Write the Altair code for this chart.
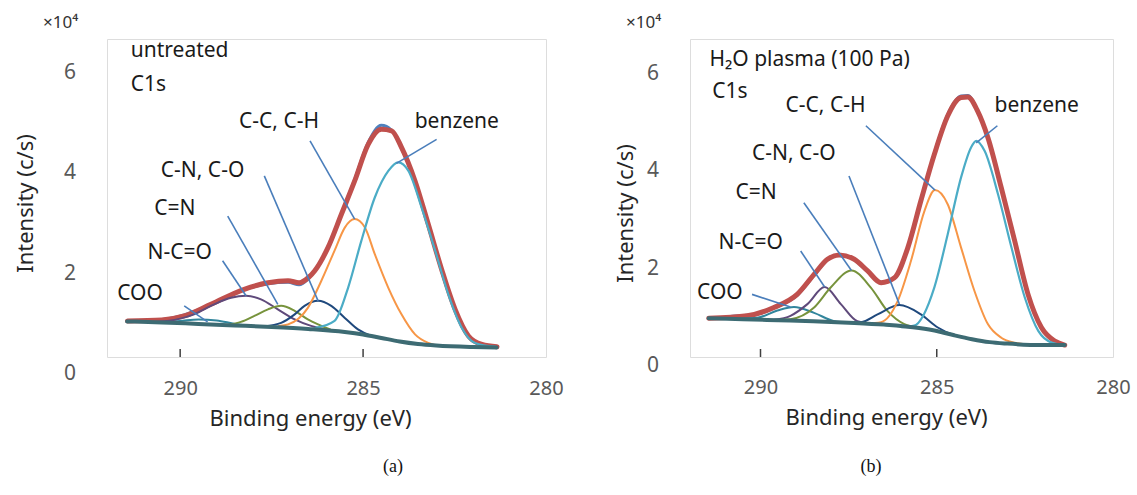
import altair as alt
import pandas as pd

XDOM = [292, 280]
X_TICKS = [290, 285, 280]
Y_TICKS = [0, 2, 4, 6]
FONT = "Noto Sans"

# ---------------- panel (a): untreated ----------------
A_YDOM = [0.34, 6.68]
A_BASE_X = [291.45, 290.5, 289.5, 288.5, 287.5, 286.5, 285.5, 285.0, 284.5, 284.0, 283.5, 283.0, 282.0, 281.35]
A_BASE_Y = [1.05, 1.03, 1.00, 0.97, 0.94, 0.90, 0.84, 0.79, 0.72, 0.65, 0.60, 0.57, 0.54, 0.53]
A_SUM_X = [291.44, 290.5, 289.89, 289.16, 288.25, 287.6, 287.05, 286.75, 286.5, 286.32, 285.96, 285.59,
           285.23, 284.86, 284.5, 284.22, 283.95, 283.58, 283.22, 282.85, 282.49, 282.12, 281.75, 281.34]
A_SUM_Y = [1.06, 1.08, 1.16, 1.39, 1.69, 1.82, 1.86, 1.82, 1.92, 2.06, 2.52, 3.19,
           3.85, 4.58, 4.88, 4.85, 4.52, 3.85, 2.99, 2.08, 1.30, 0.76, 0.59, 0.545]
A_MEAS_Y = [1.06, 1.09, 1.18, 1.38, 1.68, 1.80, 1.83, 1.78, 1.90, 2.06, 2.52, 3.20,
            3.88, 4.62, 4.96, 4.86, 4.50, 3.85, 2.99, 2.08, 1.30, 0.76, 0.59, 0.545]
A_BENZ_X = [286.3, 285.78, 285.41, 285.05, 284.68, 284.31, 284.04, 283.76, 283.40, 283.03, 282.67, 282.30, 281.94, 281.39]
A_BENZ_Y = [0.92, 1.06, 1.72, 2.65, 3.52, 4.05, 4.22, 4.05, 3.32, 2.46, 1.59, 0.92, 0.62, 0.545]
A_CC_X = [287.3, 287.05, 286.51, 286.14, 285.78, 285.50, 285.23, 284.95, 284.68, 284.31, 283.95, 283.58, 283.22, 282.85, 282.3]
A_CC_Y = [0.96, 0.99, 1.32, 1.86, 2.46, 2.92, 3.09, 2.92, 2.39, 1.72, 1.19, 0.79, 0.62, 0.56, 0.55]
A_CN_X = [287.7, 287.24, 286.87, 286.6, 286.23, 285.87, 285.5, 285.14, 284.77, 284.4]
A_CN_Y = [0.95, 1.02, 1.19, 1.36, 1.46, 1.36, 1.12, 0.89, 0.76, 0.70]
A_CEN_X = [288.7, 288.34, 287.97, 287.6, 287.24, 286.87, 286.51, 286.23, 285.9]
A_CEN_Y = [0.98, 1.04, 1.16, 1.29, 1.36, 1.26, 1.09, 0.99, 0.89]
A_NCO_X = [290.8, 290.35, 289.62, 289.07, 288.61, 288.2, 287.79, 287.33, 286.87, 286.42, 286.0]
A_NCO_Y = [1.04, 1.06, 1.19, 1.39, 1.52, 1.56, 1.49, 1.29, 1.09, 0.96, 0.89]
A_COO_X = [290.6, 290.0, 289.5, 289.0, 288.5, 288.0]
A_COO_Y = [1.03, 1.06, 1.09, 1.07, 1.00, 0.96]

A_LBL = ["untreated", "C1s", "C-C, C-H", "benzene", "C-N, C-O", "C=N", "N-C=O", "COO"]
A_LBL_X = [291.35, 291.35, 288.39, 283.59, 290.53, 290.71, 290.89, 291.72]
A_LBL_Y = [6.45, 5.77, 5.02, 5.02, 4.05, 3.29, 2.42, 1.59]
A_LEAD_X1 = [286.45, 282.99, 287.70, 288.70, 288.84, 289.89]
A_LEAD_Y1 = [4.65, 4.68, 3.95, 3.15, 2.26, 1.36]
A_LEAD_X2 = [285.23, 284.09, 286.23, 287.33, 288.20, 289.25]
A_LEAD_Y2 = [3.09, 4.20, 1.46, 1.39, 1.56, 1.04]

# ---------------- panel (b): H2O plasma ----------------
B_YDOM = [0.185, 6.71]
B_BASE_X = [291.47, 290.5, 289.5, 288.5, 287.5, 286.5, 285.5, 285.0, 284.5, 284.0, 283.5, 283.0, 282.0, 281.37]
B_BASE_Y = [0.98, 0.96, 0.94, 0.92, 0.89, 0.85, 0.78, 0.72, 0.63, 0.55, 0.49, 0.46, 0.43, 0.43]
B_SUM_X = [291.47, 290.38, 289.62, 288.96, 288.48, 288.10, 287.77, 287.34, 286.96, 286.58, 286.2, 285.82,
           285.45, 285.07, 284.69, 284.31, 284.12, 283.84, 283.55, 283.17, 282.79, 282.41, 282.03, 281.65, 281.37]
B_SUM_Y = [0.98, 1.03, 1.20, 1.47, 1.88, 2.19, 2.28, 2.19, 1.95, 1.71, 1.81, 2.43,
           3.39, 4.34, 5.13, 5.51, 5.52, 5.23, 4.69, 3.66, 2.57, 1.47, 0.79, 0.51, 0.43]
B_MEAS_X = [291.47, 291.1, 290.8, 290.38, 290.0, 289.62, 288.96, 288.48, 288.10, 287.77, 287.34, 286.96, 286.58,
            286.2, 285.82, 285.45, 285.07, 284.69, 284.31, 284.12, 283.84, 283.55, 283.17, 282.79, 282.41,
            282.03, 281.65, 281.37]
B_MEAS_Y = [0.99, 0.98, 1.02, 1.04, 1.08, 1.19, 1.45, 1.86, 2.18, 2.28, 2.18, 1.94, 1.72,
            1.82, 2.44, 3.40, 4.36, 5.16, 5.54, 5.55, 5.24, 4.70, 3.66, 2.57, 1.47,
            0.79, 0.51, 0.43]
B_BENZ_X = [286.0, 285.64, 285.07, 284.69, 284.31, 284.03, 283.88, 283.64, 283.26, 282.88, 282.5, 282.12, 281.74, 281.37]
B_BENZ_Y = [0.80, 0.83, 1.61, 2.70, 3.87, 4.48, 4.62, 4.41, 3.52, 2.43, 1.40, 0.72, 0.48, 0.43]
B_CC_X = [287.0, 286.58, 286.11, 285.73, 285.35, 285.05, 284.69, 284.31, 283.93, 283.55, 283.17, 282.79, 282.3]
B_CC_Y = [0.87, 0.90, 1.33, 2.16, 3.18, 3.61, 3.32, 2.43, 1.54, 0.86, 0.58, 0.48, 0.44]
B_CN_X = [287.6, 287.15, 286.68, 286.06, 285.45, 284.97, 284.5, 284.1]
B_CN_Y = [0.89, 0.90, 1.06, 1.25, 1.06, 0.79, 0.63, 0.56]
B_CEN_X = [289.6, 289.15, 288.48, 288.01, 287.42, 286.87, 286.4, 285.92, 285.5]
B_CEN_Y = [0.94, 0.96, 1.20, 1.61, 1.96, 1.61, 1.13, 0.86, 0.79]
B_NCO_X = [289.6, 289.15, 288.67, 288.18, 287.72, 287.25, 286.8]
B_NCO_Y = [0.95, 1.03, 1.27, 1.62, 1.27, 0.92, 0.87]
B_COO_X = [290.6, 290.09, 289.52, 289.05, 288.48, 287.91, 287.5]
B_COO_Y = [0.97, 0.99, 1.14, 1.21, 1.09, 0.92, 0.89]

B_LBL = ["H₂O plasma (100 Pa)", "C1s", "C-C, C-H", "benzene", "C-N, C-O", "C=N", "N-C=O", "COO"]
B_LBL_X = [291.45, 291.37, 289.29, 283.36, 290.24, 290.71, 291.19, 291.80]
B_LBL_Y = [6.28, 5.62, 5.34, 5.34, 4.35, 3.56, 2.53, 1.50]
B_LEAD_X1 = [287.01, 283.28, 287.49, 288.77, 288.86, 290.24]
B_LEAD_Y1 = [4.93, 4.93, 3.90, 3.35, 2.36, 1.47]
B_LEAD_X2 = [285.05, 283.88, 286.06, 287.42, 288.18, 289.15]
B_LEAD_Y2 = [3.61, 4.58, 1.27, 1.96, 1.62, 1.21]

C_MEAS = "#4F81BD"
C_SUM = "#C0504D"
C_BASE = "#3D6B73"
C_BENZ = "#4BACC6"
C_CC = "#F79646"
C_CN = "#1F497D"
C_CEN = "#77933C"
C_NCO = "#5F4A7B"
C_COO = "#31859C"
C_LEAD = "#4A7EBB"


def panel(curves, lbl, lx, ly, lead, ydom, W, H, ytx, yty, xtx, xty, lpad, cap, capx, anchor=False):
    xenc = alt.X("ev:Q", scale=alt.Scale(domain=XDOM, nice=False, zero=False),
                 axis=alt.Axis(values=X_TICKS, title="Binding energy (eV)", domain=False, ticks=False,
                               tickSize=0, grid=False, labelFont=FONT, labelFontSize=20,
                               labelColor="#595959", labelPadding=lpad, labelFlush=False,
                               labelOverlap=False, format="d",
                               titleFont=FONT, titleFontSize=22, titleFontWeight="normal",
                               titleColor="#262626", titleX=xtx, titleY=xty,
                               titleAlign="center", titleBaseline="middle"))
    yenc = alt.Y("val:Q", scale=alt.Scale(domain=ydom, nice=False, zero=False),
                 axis=alt.Axis(title="Intensity (c/s)", labels=False, ticks=False, domain=False,
                               grid=False, titleFont=FONT, titleFontSize=22, titleFontWeight="normal",
                               titleColor="#262626", titleX=ytx, titleY=yty, titleAngle=270,
                               titleAlign="center", titleBaseline="middle"))
    layers = []
    for xs, ys, color, sw in curves:
        df = pd.DataFrame({"ev": xs, "val": ys})
        layers.append(alt.Chart(df).mark_line(color=color, strokeWidth=sw, interpolate="monotone",
                                              strokeCap="round").encode(x=xenc, y=yenc))
    x1, y1, x2, y2 = lead
    ldf = pd.DataFrame({"ev": x1, "val": y1, "ev2": x2, "val2": y2})
    layers.append(alt.Chart(ldf).mark_rule(color=C_LEAD, strokeWidth=1.6).encode(
        x=xenc, y=yenc, x2="ev2:Q", y2="val2:Q"))
    tdf = pd.DataFrame({"label": lbl, "ev": lx, "val": ly})
    layers.append(alt.Chart(tdf).mark_text(align="left", baseline="middle", font=FONT, fontSize=21,
                                           color="#1a1a1a").encode(x=xenc, y=yenc, text="label:N"))
    ytdf = pd.DataFrame({"val": Y_TICKS, "txt": [str(v) for v in Y_TICKS]})
    layers.append(alt.Chart(ytdf).mark_text(align="center", baseline="middle", font=FONT, fontSize=21,
                                            color="#595959").encode(x=alt.value(-37), y=yenc, text="txt:N"))
    tkdf = pd.DataFrame({"ev": X_TICKS[:2]})
    layers.append(alt.Chart(tkdf).mark_rule(color="#404040", strokeWidth=1.5).encode(
        x=xenc, y=alt.value(H - 8), y2=alt.value(H)))
    one = pd.DataFrame({"k": [0]})
    layers.append(alt.Chart(one).mark_text(text="×10⁴", align="left", baseline="middle", font=FONT,
                                           fontSize=17, color="#333333").encode(
        x=alt.value(-64), y=alt.value(-16)))
    layers.append(alt.Chart(one).mark_text(text=cap, align="center", baseline="middle",
                                           font="Liberation Serif", fontSize=18, color="#111111").encode(
        x=alt.value(capx), y=alt.value(428)))
    if anchor:
        layers.append(alt.Chart(one).mark_rule(opacity=0).encode(
            x=alt.value(-106), y=alt.value(-38), y2=alt.value(-30)))
    return alt.layer(*layers).properties(width=W, height=H)


A_CURVES = [
    (A_SUM_X, A_MEAS_Y, C_MEAS, 3),
    (A_SUM_X, A_SUM_Y, C_SUM, 5),
    (A_COO_X, A_COO_Y, C_COO, 2),
    (A_NCO_X, A_NCO_Y, C_NCO, 2),
    (A_CEN_X, A_CEN_Y, C_CEN, 2),
    (A_CN_X, A_CN_Y, C_CN, 2),
    (A_CC_X, A_CC_Y, C_CC, 2),
    (A_BENZ_X, A_BENZ_Y, C_BENZ, 2.2),
    (A_BASE_X, A_BASE_Y, C_BASE, 4),
]
B_CURVES = [
    (B_MEAS_X, B_MEAS_Y, C_MEAS, 3),
    (B_SUM_X, B_SUM_Y, C_SUM, 5),
    (B_COO_X, B_COO_Y, C_COO, 2),
    (B_NCO_X, B_NCO_Y, C_NCO, 2),
    (B_CEN_X, B_CEN_Y, C_CEN, 2),
    (B_CN_X, B_CN_Y, C_CN, 2),
    (B_CC_X, B_CC_Y, C_CC, 2),
    (B_BENZ_X, B_BENZ_Y, C_BENZ, 2.2),
    (B_BASE_X, B_BASE_Y, C_BASE, 4),
]

pa = panel(A_CURVES, A_LBL, A_LBL_X, A_LBL_Y, (A_LEAD_X1, A_LEAD_Y1, A_LEAD_X2, A_LEAD_Y2),
           A_YDOM, 439, 318, -82, 164, 203, 61, 21, "(a)", 286, anchor=True)
pb = panel(B_CURVES, B_LBL, B_LBL_X, B_LBL_Y, (B_LEAD_X1, B_LEAD_Y1, B_LEAD_X2, B_LEAD_Y2),
           B_YDOM, 423, 318, -65, 174, 196, 60, 20, "(b)", 181)

chart = alt.hconcat(pa, pb, spacing=144, bounds="flush").properties(
    padding={"left": 0, "top": 0, "right": 0, "bottom": 0}
).configure_view(stroke="#333333", strokeWidth=1.5).configure(background="white")

chart.save("out.html", embed_options={"renderer": "svg", "actions": False})
